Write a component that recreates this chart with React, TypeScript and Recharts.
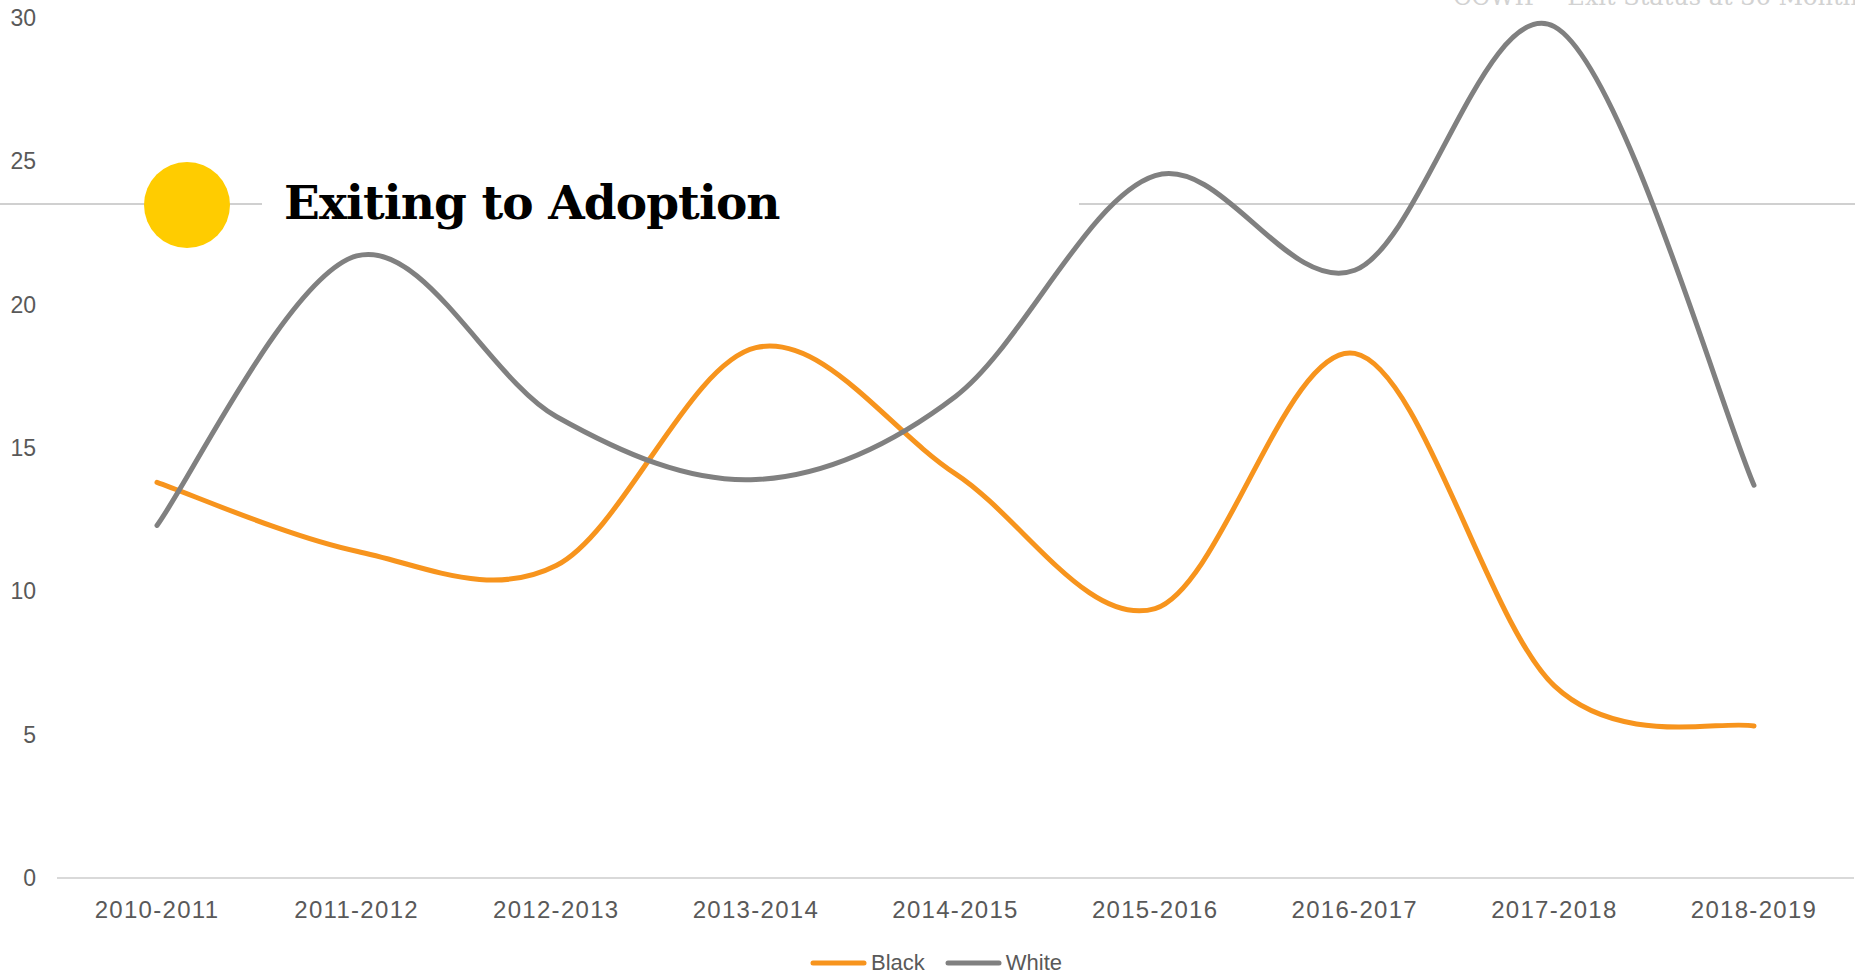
import React from "react";
import { LineChart, Line, XAxis, YAxis, Legend } from "recharts";

const categories = [
  "2010-2011",
  "2011-2012",
  "2012-2013",
  "2013-2014",
  "2014-2015",
  "2015-2016",
  "2016-2017",
  "2017-2018",
  "2018-2019",
];
const blackValues = [13.8, 11.4, 10.9, 18.5, 14.1, 9.4, 18.3, 6.7, 5.3];
const whiteValues = [12.3, 21.7, 16.1, 13.9, 16.8, 24.5, 21.2, 29.7, 13.7];
const yTicks = [0, 5, 10, 15, 20, 25, 30];
const seriesNames = ["Black", "White"];
const seriesColors = ["#F7941D", "#808080"];
const titleText = "Exiting to Adoption";
const headerText = "CCWIP \u2013 Exit Status at 36 Months";

const data = categories.map((c, i) => ({
  year: c,
  Black: blackValues[i],
  White: whiteValues[i],
}));

// Excel-like smoothed line (Catmull-Rom style bezier)
function excelCurve(context: any) {
  let pts: [number, number][] = [];
  return {
    areaStart() {},
    areaEnd() {},
    lineStart() {
      pts = [];
    },
    lineEnd() {
      const n = pts.length;
      if (n === 0) return;
      context.moveTo(pts[0][0], pts[0][1]);
      if (n === 1) return;
      for (let i = 0; i < n - 1; i++) {
        const p0 = pts[Math.max(0, i - 1)];
        const p1 = pts[i];
        const p2 = pts[i + 1];
        const p3 = pts[Math.min(n - 1, i + 2)];
        const c1x = p1[0] + (p2[0] - p0[0]) / 6;
        const c1y = p1[1] + (p2[1] - p0[1]) / 6;
        const c2x = p2[0] - (p3[0] - p1[0]) / 6;
        const c2y = p2[1] - (p3[1] - p1[1]) / 6;
        context.bezierCurveTo(c1x, c1y, c2x, c2y, p2[0], p2[1]);
      }
    },
    point(x: number, y: number) {
      pts.push([+x, +y]);
    },
  };
}

const LegendContent = () => (
  <div
    style={{
      display: "flex",
      justifyContent: "center",
      alignItems: "center",
      height: 40,
      paddingTop: 15,
      paddingLeft: 18,
      fontFamily: "'Liberation Sans', Arial, sans-serif",
      fontSize: 22,
      color: "#595959",
    }}
  >
    {seriesNames.map((name, i) => (
      <div key={name} style={{ display: "flex", alignItems: "center", marginRight: i === 0 ? 20 : 0 }}>
        <svg width={57} height={10} style={{ marginRight: 4 }}>
          <line x1={3} y1={5} x2={54} y2={5} stroke={seriesColors[i]} strokeWidth={5} strokeLinecap="round" />
        </svg>
        <span>{name}</span>
      </div>
    ))}
  </div>
);

export default function App() {
  return (
    <div style={{ position: "fixed", left: 0, top: 0, width: 1855, height: 977, background: "#fff", overflow: "hidden" }}>
      <svg width={1855} height={977} style={{ position: "absolute", left: 0, top: 0 }}>
        <text x={1453} y={5} fontFamily="'DejaVu Serif', serif" fontSize={24} fill="#d2d2d2">
          {headerText}
        </text>
        <line x1={0} y1={204} x2={262} y2={204} stroke="#d0d0d0" strokeWidth={2} />
        <line x1={1079} y1={204} x2={1855} y2={204} stroke="#d0d0d0" strokeWidth={2} />
        <circle cx={187} cy={205} r={43} fill="#FFCC00" />
        <text
          x={284}
          y={219}
          fontFamily="'DejaVu Serif', serif"
          fontWeight="bold"
          fontSize={47}
          letterSpacing={-0.9}
          fill="#000"
        >
          {titleText}
        </text>
      </svg>
      <div style={{ position: "absolute", left: 0, top: 0 }}>
        <LineChart width={1855} height={977} data={data} margin={{ top: 18, right: 1, left: 0, bottom: 9 }}>
          <XAxis
            dataKey="year"
            axisLine={{ stroke: "#d9d9d9", strokeWidth: 2 }}
            tickLine={false}
            tickSize={0}
            tickMargin={23}
            height={50}
            interval={0}
            padding={{ left: 100, right: 100 }}
            tick={{ fill: "#595959", fontSize: 24, fontFamily: "'Liberation Sans', Arial, sans-serif", letterSpacing: 1.3 }}
          />
          <YAxis
            domain={[0, 30]}
            ticks={yTicks}
            axisLine={false}
            tickLine={false}
            tickSize={0}
            tickMargin={21}
            width={57}
            tick={{ fill: "#595959", fontSize: 23, fontFamily: "'Liberation Sans', Arial, sans-serif" }}
          />
          <Legend verticalAlign="bottom" height={40} content={<LegendContent />} />
          <Line
            dataKey="Black"
            type={excelCurve as any}
            stroke={seriesColors[0]}
            strokeWidth={5}
            strokeLinecap="round"
            dot={false}
            activeDot={false}
            isAnimationActive={false}
          />
          <Line
            dataKey="White"
            type={excelCurve as any}
            stroke={seriesColors[1]}
            strokeWidth={5}
            strokeLinecap="round"
            dot={false}
            activeDot={false}
            isAnimationActive={false}
          />
        </LineChart>
      </div>
    </div>
  );
}
